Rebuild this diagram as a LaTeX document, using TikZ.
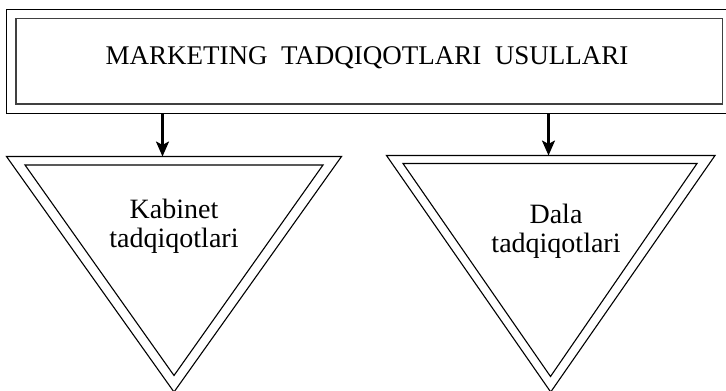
\documentclass[tikz,border=0pt]{standalone}
\usepackage{fontspec}
\setmainfont{Liberation Serif}
\usetikzlibrary{arrows.meta}
\begin{document}
\begin{tikzpicture}[x=1pt,y=-1pt,
  outerline/.style={draw=black,line width=1.1pt},
  innerline/.style={draw=black!75,line width=1.5pt},
  triline/.style={draw=black,line width=1.1pt,line join=miter},
  conn/.style={line width=2.3pt,-{Stealth[length=15pt,width=13pt,inset=3.5pt]}},
  titletext/.style={font=\fontsize{27}{30}\selectfont,inner sep=0pt},
  tritext/.style={font=\fontsize{28}{29}\selectfont,align=center,inner sep=0pt}]
\useasboundingbox (0,0) rectangle (726,391);
% header boxes
\draw[outerline] (6.5,9.5) rectangle (732,113.5);
\draw[innerline] (16,18.5) rectangle (722.5,104);
\node[titletext,anchor=base] (title) at (367,64) {MARKETING\ \ TADQIQOTLARI\ \ USULLARI};
% left triangle
\draw[triline] (6.5,156.5) -- (341.5,156.5) -- (174,392) -- cycle;
\draw[triline] (25,165) -- (323,165) -- (174,375.5) -- cycle;
\node[tritext,anchor=base] (kab) at (174,247) {Kabinet\\tadqiqotlari};
% right triangle
\draw[triline] (386.5,155.5) -- (715,155.5) -- (550.7,392) -- cycle;
\draw[triline] (403,163.5) -- (697,163.5) -- (550.5,376.5) -- cycle;
\node[tritext,anchor=base] (dala) at (556,252) {Dala\\tadqiqotlari};
% connectors
\coordinate (s1) at (162.5,113.5);
\coordinate (t1) at (162.5,156.5);
\coordinate (s2) at (548.5,113.5);
\coordinate (t2) at (548.5,155.5);
\draw[conn] (s1) -- (t1);
\draw[conn] (s2) -- (t2);
\end{tikzpicture}
\end{document}
